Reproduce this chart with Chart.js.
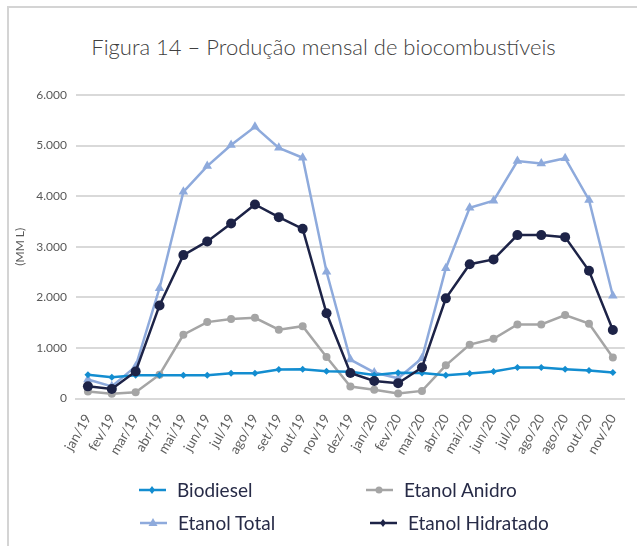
<!DOCTYPE html>
<html lang="pt-BR">
<head>
<meta charset="utf-8">
<script src="https://cdn.jsdelivr.net/npm/chart.js@4"></script>
<style>
  html, body { margin: 0; padding: 0; background: #fff; overflow: hidden; }
  body { width: 637px; height: 546px; position: relative; font-family: Lato, "Open Sans", sans-serif; }
  #frame { position: absolute; left: 7px; top: 6px; width: 700px; height: 600px;
           border-left: 2px solid #d4d4d4; border-top: 2px solid #d4d4d4; }
  #wrap { position: absolute; left: 0; top: 0; width: 640px; height: 546px; }
  #title { position: absolute; left: 0; width: 647px; top: 33px; text-align: center;
           font-size: 22px; font-weight: 300; color: #404040; }
  .leg { position: absolute; display: flex; align-items: center; font-size: 19px; color: #272b47; white-space: nowrap; }
  .leg svg { margin-right: 11px; }
</style>
</head>
<body>
<div id="frame"></div>
<div id="title">Figura 14 – Produção mensal de biocombustíveis</div>
<div id="wrap"><canvas id="chart" width="640" height="546"></canvas></div>
<div id="legend"></div>
<script>
const months = ["jan/19", "fev/19", "mar/19", "abr/19", "mai/19", "jun/19", "jul/19", "ago/19",
  "set/19", "out/19", "nov/19", "dez/19", "jan/20", "fev/20", "mar/20", "abr/20", "mai/20",
  "jun/20", "jul/20", "ago/20", "ago/20", "out/20", "nov/20"];

const biodiesel = [470, 420, 460, 460, 460, 460, 500, 500, 575, 580, 540, 530, 465, 510,
  505, 460, 495, 535, 615, 615, 580, 555, 515];
const etanolAnidro = [140, 95, 125, 470, 1260, 1510, 1570, 1595, 1360, 1430, 820, 235, 175,
  97, 150, 655, 1065, 1180, 1465, 1465, 1650, 1480, 810];
const etanolTotal = [375, 240, 635, 2180, 4085, 4595, 5010, 5370, 4955, 4760, 2505, 770, 515,
  400, 795, 2575, 3770, 3910, 4695, 4645, 4750, 3925, 2030];
const etanolHidratado = [240, 188, 535, 1840, 2835, 3105, 3460, 3835, 3585, 3355, 1685, 505,
  345, 300, 613, 1980, 2655, 2750, 3230, 3230, 3190, 2525, 1355];

const yTicks = [0, 1000, 2000, 3000, 4000, 5000, 6000];

const colors = {
  biodiesel: "#138dd0",
  anidro: "#a5a5a5",
  total: "#8eaadc",
  hidratado: "#1d2347",
};

const fmt = (v) => String(v).replace(/\B(?=(\d{3})+(?!\d))/g, ".");

// dataset 0 is drawn on top
const ctx = document.getElementById("chart").getContext("2d");
new Chart(ctx, {
  type: "line",
  data: {
    labels: months,
    datasets: [
      { label: "Etanol Hidratado", data: etanolHidratado, borderColor: colors.hidratado,
        backgroundColor: colors.hidratado, pointStyle: "circle", pointRadius: 5 },
      { label: "Biodiesel", data: biodiesel, borderColor: colors.biodiesel,
        backgroundColor: colors.biodiesel, pointStyle: "rectRot", pointRadius: 3.5 },
      { label: "Etanol Total", data: etanolTotal, borderColor: colors.total,
        backgroundColor: colors.total, pointStyle: "triangle", pointRadius: 5.5 },
      { label: "Etanol Anidro", data: etanolAnidro, borderColor: colors.anidro,
        backgroundColor: colors.anidro, pointStyle: "circle", pointRadius: 4 },
    ].map((d) => ({ ...d, borderWidth: 2.5, pointBorderWidth: 0, tension: 0 })),
  },
  options: {
    responsive: false,
    animation: false,
    layout: { padding: { top: 95, left: 9, right: 1, bottom: 0 } },
    plugins: { legend: { display: false }, tooltip: { enabled: false } },
    scales: {
      x: {
        offset: true,
        grid: { display: false, drawTicks: false },
        border: { color: "#d9d9d9", width: 2 },
        ticks: {
          color: "#5f5f5f", font: { family: "Lato", size: 13.5 },
          minRotation: 60, maxRotation: 60, autoSkip: false, padding: 13,
        },
        afterFit: (scale) => { scale.height = 147.5; },
      },
      y: {
        min: 0, max: 6000,
        afterBuildTicks: (scale) => { scale.ticks = yTicks.map((v) => ({ value: v })); },
        grid: { color: "#d9d9d9", lineWidth: 2, drawTicks: false },
        border: { display: false },
        ticks: {
          color: "#595959", font: { family: "Lato", size: 12 }, padding: 9,
          callback: (v) => fmt(v),
        },
        title: { display: true, text: "(MM L)", color: "#595959", font: { family: "Lato", size: 12 } },
        afterFit: (scale) => { scale.width = 67; },
      },
    },
  },
});

// legend (two columns, as in the figure)
const legendItems = [
  { text: "Biodiesel", color: colors.biodiesel, shape: "diamond", x: 139, y: 490 },
  { text: "Etanol Anidro", color: colors.anidro, shape: "circle", x: 366, y: 490 },
  { text: "Etanol Total", color: colors.total, shape: "triangle", x: 140, y: 523 },
  { text: "Etanol Hidratado", color: colors.hidratado, shape: "diamond", x: 370, y: 523 },
];

const markerSvg = (shape, color) => {
  let m = "";
  if (shape === "diamond") m = `<polygon points="13,2 16,6 13,10 10,6" fill="${color}"/>`;
  if (shape === "circle") m = `<circle cx="13" cy="6" r="3.5" fill="${color}"/>`;
  if (shape === "triangle") m = `<polygon points="13,1 17.5,9 8.5,9" fill="${color}"/>`;
  return `<svg width="27" height="12"><line x1="0" y1="6" x2="27" y2="6" stroke="${color}" stroke-width="2.5"/>${m}</svg>`;
};

document.getElementById("legend").innerHTML = legendItems
  .map((item) => `<div class="leg" style="left:${item.x}px;top:${item.y - 12}px;">
    ${markerSvg(item.shape, item.color)}<span>${item.text}</span></div>`)
  .join("");
</script>
</body>
</html>
